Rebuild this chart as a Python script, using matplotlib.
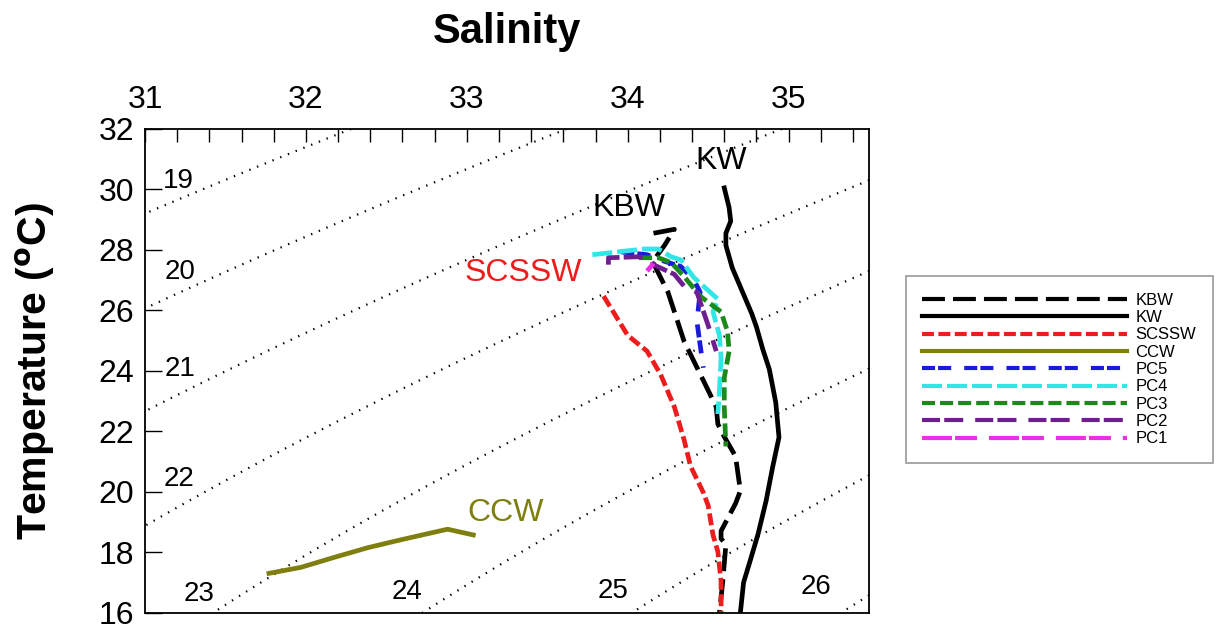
import numpy as np
import matplotlib
matplotlib.use("Agg")
import matplotlib.pyplot as plt

plt.rcParams['font.family'] = ['Liberation Sans', 'DejaVu Sans']
plt.rcParams['lines.scale_dashes'] = False

# --- Water mass T-S curves (salinity, temperature) ---
kbw_s = [34.16, 34.29, 34.23, 34.155, 34.25, 34.35, 34.50, 34.55, 34.56, 34.60, 34.67, 34.70,
         34.67, 34.58, 34.58, 34.61, 34.59, 34.57]
kbw_t = [28.55, 28.68, 28.16, 27.61, 26.60, 24.98, 23.35, 22.80, 22.24, 21.82, 21.17, 20.03,
         19.61, 18.70, 18.45, 18.25, 17.0, 16.0]

kw_s = [34.60, 34.63, 34.64, 34.61, 34.61, 34.65, 34.69, 34.73, 34.77, 34.80, 34.84, 34.88,
        34.92, 34.94, 34.90, 34.86, 34.81, 34.76, 34.72, 34.70]
kw_t = [30.05, 29.40, 28.95, 28.55, 28.15, 27.40, 26.90, 26.40, 25.90, 25.45, 24.70, 24.05,
        22.95, 21.80, 20.80, 19.70, 18.60, 17.70, 17.00, 16.0]

scssw_s = [33.85, 33.91, 34.00, 34.12, 34.205, 34.29, 34.35, 34.39, 34.47, 34.50, 34.53, 34.56, 34.58, 34.58]
scssw_t = [26.47, 25.95, 25.17, 24.65, 23.87, 22.80, 21.72, 20.85, 19.97, 19.54, 18.57, 18.02, 17.04, 16.0]

ccw_s = [31.77, 31.97, 32.17, 32.385, 32.59, 32.88, 33.04]
ccw_t = [17.30, 17.50, 17.82, 18.15, 18.41, 18.76, 18.57]

pc5_s = [33.96, 34.12, 34.20, 34.33, 34.41, 34.45, 34.43, 34.45, 34.47]
pc5_t = [27.93, 27.84, 27.67, 27.45, 27.02, 26.60, 25.63, 24.85, 24.10]

pc4_s = [33.78, 34.10, 34.19, 34.27, 34.33, 34.41, 34.56, 34.53, 34.57, 34.58, 34.57, 34.56]
pc4_t = [27.84, 28.03, 28.03, 27.77, 27.67, 27.09, 26.37, 25.95, 25.17, 24.42, 23.35, 22.57]

pc3_s = [34.07, 34.19, 34.27, 34.35, 34.45, 34.58, 34.62, 34.63, 34.60, 34.60, 34.61]
pc3_t = [27.74, 27.74, 27.58, 27.12, 26.47, 25.95, 25.30, 24.65, 23.77, 22.80, 21.50]

pc2_s = [33.88, 33.88, 34.06, 34.14, 34.16, 34.29, 34.35, 34.43, 34.45, 34.50, 34.55]
pc2_t = [27.51, 27.74, 27.77, 27.74, 27.51, 27.19, 26.80, 26.60, 26.28, 25.50, 24.65]

pc1_s = [34.12, 34.16]
pc1_t = [27.30, 27.55]

names = ["KBW", "KW", "SCSSW", "CCW", "PC5", "PC4", "PC3", "PC2", "PC1"]
colors = ["black", "black", "#ee1c1c", "#7f7f0f", "#1a1adc", "#33e6e6", "#1a8a1a", "#6e1e8e", "#e830e8"]
styles = [(0, (16.5, 5.8)), "-", (0, (8.6, 3.2)), "-", (0, (9.4, 2.2, 9.4, 9.4)),
          (0, (14.4, 3.6)), (0, (9.4, 3.6)), (0, (13, 3, 13.7, 8.6)), (0, (21.6, 2.2, 15.8, 8.6))]
curves = [(kbw_s, kbw_t), (kw_s, kw_t), (scssw_s, scssw_t), (ccw_s, ccw_t), (pc5_s, pc5_t),
          (pc4_s, pc4_t), (pc3_s, pc3_t), (pc2_s, pc2_t), (pc1_s, pc1_t)]

# sigma-t contour levels and label spots
sigma_levels = [19, 20, 21, 22, 23, 24, 25, 26]
sigma_lab_s = [31.21, 31.22, 31.22, 31.21, 31.335, 32.63, 33.91, 35.17]
sigma_lab_t = [30.28, 27.28, 24.06, 20.42, 16.62, 16.68, 16.72, 16.85]


def sigma_t(S, T):
    # UNESCO EOS-80 at surface pressure
    rw = (999.842594 + 6.793952e-2 * T - 9.095290e-3 * T**2 + 1.001685e-4 * T**3
          - 1.120083e-6 * T**4 + 6.536332e-9 * T**5)
    a = 0.824493 - 4.0899e-3 * T + 7.6438e-5 * T**2 - 8.2467e-7 * T**3 + 5.3875e-9 * T**4
    b = -5.72466e-3 + 1.0227e-4 * T - 1.6546e-6 * T**2
    return rw + a * S + b * S**1.5 + 4.8314e-4 * S**2 - 1000.0


fig = plt.figure(figsize=(12.22, 6.29), dpi=100)
ax = fig.add_axes([0.1187, 0.026, 0.5925, 0.769])

sg, tg = np.meshgrid(np.linspace(31, 35.5, 300), np.linspace(16, 32, 300))
cs = ax.contour(sg, tg, sigma_t(sg, tg), levels=sigma_levels, colors="black", linewidths=1.6)
cs.set_linestyle((0, (1, 5)))

for lev, s, t in zip(sigma_levels, sigma_lab_s, sigma_lab_t):
    ax.text(s, t, str(lev), fontsize=20, ha="center", va="center")

for (s, t), name, col, ls in zip(curves, names, colors, styles):
    ax.plot(s, t, color=col, linestyle=ls, linewidth=3.4, label=name)

ax.text(34.58, 30.93, "KW", fontsize=23, ha="center", va="center")
ax.text(34.006, 29.40, "KBW", fontsize=23, ha="center", va="center")
ax.text(33.35, 27.25, "SCSSW", fontsize=23, ha="center", va="center", color="#ee1c1c")
ax.text(33.24, 19.28, "CCW", fontsize=23, ha="center", va="center", color="#7f7f0f")

ax.set_xlim(31, 35.5)
ax.set_ylim(16, 32)
ax.set_xticks([31, 32, 33, 34, 35])
ax.set_xticks(np.arange(31, 35.5, 0.2), minor=True)
ax.set_yticks(np.arange(16, 33, 2))
ax.xaxis.tick_top()
ax.xaxis.set_label_position("top")
ax.tick_params(axis="x", which="both", direction="in", length=9, width=1, labelsize=23, pad=10,
               top=True, bottom=False)
ax.tick_params(axis="y", which="both", direction="in", length=12, width=1, labelsize=23, pad=8,
               left=True, right=False)
for sp in ax.spines.values():
    sp.set_linewidth(1.3)

ax.set_xlabel("Salinity", fontsize=30, fontweight="bold", labelpad=30)
ax.set_ylabel("Temperature ($\\mathbf{^{o}}$C)", fontsize=29.5, fontweight="bold", labelpad=30)

leg = ax.legend(loc="upper left", bbox_to_anchor=(0.741, 0.561), bbox_transform=fig.transFigure,
                fontsize=12, handlelength=12.3, handletextpad=0.5, labelspacing=0.14,
                frameon=True, fancybox=False, borderpad=1.0, borderaxespad=0)
leg.get_frame().set_edgecolor("#808080")
leg.get_frame().set_linewidth(1.2)
for ln in leg.get_lines():
    ln.set_linewidth(3)

fig.savefig("out.png", dpi=100)
